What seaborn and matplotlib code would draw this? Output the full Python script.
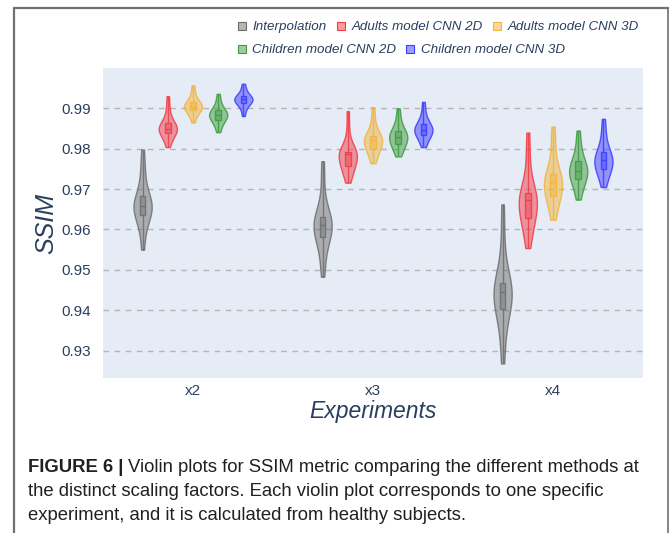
import numpy as np
import pandas as pd
import matplotlib
matplotlib.use("Agg")
import matplotlib.pyplot as plt
from matplotlib.lines import Line2D
from matplotlib import font_manager
import seaborn as sns

experiments = ["x2", "x3", "x4"]
methods = ["Interpolation", "Adults model CNN 2D", "Adults model CNN 3D",
           "Children model CNN 2D", "Children model CNN 3D"]
colors = ["#6e6e6e", "#f03c46", "#f2b43c", "#3c9c3c", "#3c3cff"]

# estimated SSIM samples per experiment / method
interp_x2 = [0.9550, 0.9590, 0.9615, 0.9628, 0.9635, 0.9645, 0.9650, 0.9655, 0.9659, 0.9663, 0.9668, 0.9675, 0.9682, 0.9700, 0.9730, 0.9756, 0.9798]
ad2d_x2 = [0.9804, 0.9818, 0.9828, 0.9835, 0.9839, 0.9843, 0.9846, 0.9848, 0.9850, 0.9853, 0.9856, 0.9860, 0.9864, 0.9872, 0.9885, 0.9905, 0.9930]
ad3d_x2 = [0.9865, 0.9878, 0.9886, 0.9892, 0.9895, 0.9898, 0.9901, 0.9903, 0.9905, 0.9907, 0.9909, 0.9912, 0.9915, 0.9920, 0.9928, 0.9940, 0.9957]
ch2d_x2 = [0.9841, 0.9853, 0.9862, 0.9868, 0.9872, 0.9876, 0.9879, 0.9882, 0.9884, 0.9886, 0.9889, 0.9892, 0.9895, 0.9900, 0.9908, 0.9920, 0.9936]
ch3d_x2 = [0.9881, 0.9895, 0.9904, 0.9910, 0.9913, 0.9916, 0.9918, 0.9920, 0.9922, 0.9924, 0.9926, 0.9928, 0.9930, 0.9934, 0.9940, 0.9950, 0.9961]

interp_x3 = [0.9483, 0.9520, 0.9550, 0.9570, 0.9581, 0.9590, 0.9598, 0.9605, 0.9612, 0.9616, 0.9620, 0.9625, 0.9630, 0.9645, 0.9670, 0.9720, 0.9769]
ad2d_x3 = [0.9716, 0.9732, 0.9745, 0.9752, 0.9757, 0.9763, 0.9770, 0.9778, 0.9786, 0.9788, 0.9790, 0.9792, 0.9793, 0.9800, 0.9815, 0.9850, 0.9893]
ad3d_x3 = [0.9764, 0.9778, 0.9788, 0.9795, 0.9800, 0.9806, 0.9812, 0.9817, 0.9821, 0.9824, 0.9827, 0.9829, 0.9831, 0.9840, 0.9855, 0.9875, 0.9903]
ch2d_x3 = [0.9781, 0.9792, 0.9800, 0.9807, 0.9812, 0.9817, 0.9822, 0.9826, 0.9829, 0.9832, 0.9836, 0.9840, 0.9844, 0.9852, 0.9862, 0.9878, 0.9900]
ch3d_x3 = [0.9804, 0.9815, 0.9824, 0.9831, 0.9835, 0.9839, 0.9842, 0.9845, 0.9847, 0.9850, 0.9854, 0.9858, 0.9862, 0.9868, 0.9878, 0.9894, 0.9916]

interp_x4 = [0.9268, 0.9320, 0.9365, 0.9390, 0.9402, 0.9415, 0.9427, 0.9437, 0.9445, 0.9450, 0.9455, 0.9461, 0.9468, 0.9490, 0.9530, 0.9590, 0.9662]
ad2d_x4 = [0.9554, 0.9585, 0.9605, 0.9620, 0.9629, 0.9640, 0.9650, 0.9660, 0.9672, 0.9677, 0.9682, 0.9687, 0.9691, 0.9710, 0.9745, 0.9790, 0.9840]
ad3d_x4 = [0.9624, 0.9648, 0.9665, 0.9676, 0.9683, 0.9693, 0.9702, 0.9710, 0.9717, 0.9722, 0.9727, 0.9732, 0.9737, 0.9755, 0.9785, 0.9820, 0.9855]
ch2d_x4 = [0.9674, 0.9692, 0.9707, 0.9717, 0.9724, 0.9731, 0.9737, 0.9741, 0.9745, 0.9750, 0.9756, 0.9762, 0.9769, 0.9780, 0.9795, 0.9818, 0.9845]
ch3d_x4 = [0.9705, 0.9722, 0.9735, 0.9744, 0.9750, 0.9756, 0.9762, 0.9767, 0.9771, 0.9776, 0.9781, 0.9787, 0.9793, 0.9805, 0.9822, 0.9845, 0.9874]

y_ticks = [0.93, 0.94, 0.95, 0.96, 0.97, 0.98, 0.99]

samples = {
    ("x2", methods[0]): interp_x2, ("x2", methods[1]): ad2d_x2, ("x2", methods[2]): ad3d_x2,
    ("x2", methods[3]): ch2d_x2, ("x2", methods[4]): ch3d_x2,
    ("x3", methods[0]): interp_x3, ("x3", methods[1]): ad2d_x3, ("x3", methods[2]): ad3d_x3,
    ("x3", methods[3]): ch2d_x3, ("x3", methods[4]): ch3d_x3,
    ("x4", methods[0]): interp_x4, ("x4", methods[1]): ad2d_x4, ("x4", methods[2]): ad3d_x4,
    ("x4", methods[3]): ch2d_x4, ("x4", methods[4]): ch3d_x4,
}
rows = []
for (e, m), vals in samples.items():
    for v in vals:
        rows.append({"Experiment": e, "Method": m, "SSIM": v})
df = pd.DataFrame(rows)

sns.set_theme(style="white")
plt.rcParams["font.family"] = ["Liberation Sans", "DejaVu Sans"]
txt_color = "#2a3f5f"
pal = dict(zip(methods, colors))
to_rgba = matplotlib.colors.to_rgba

fig = plt.figure(figsize=(6.72, 5.33), dpi=100)
W, H = 672, 533
ax = fig.add_axes([103 / W, 1 - 378 / H, (643 - 103) / W, (378 - 68) / H])
ax.set_facecolor("#E5ECF6")

WIDTH = 0.7
n_h = len(methods)
step = WIDTH / n_h


def hue_index_from_x(xc):
    off = xc - round(xc)
    return int(round(off / step + (n_h - 1) / 2))


sns.violinplot(data=df, x="Experiment", y="SSIM", hue="Method",
               order=experiments, hue_order=methods, palette=pal,
               width=WIDTH, gap=0.28, density_norm="width", cut=0, inner=None,
               linewidth=1.0, saturation=1, bw_adjust=0.9,
               ax=ax, legend=False, zorder=3)
for coll in ax.collections:
    paths = coll.get_paths()
    if not paths:
        continue
    xs = paths[0].vertices[:, 0]
    c = colors[hue_index_from_x(xs.mean())]
    coll.set_facecolor(to_rgba(c, 0.5))
    coll.set_edgecolor(to_rgba(c, 0.85))
    coll.set_linewidth(1.0)

p0 = len(ax.patches)
l0 = len(ax.lines)
sns.boxplot(data=df, x="Experiment", y="SSIM", hue="Method",
            order=experiments, hue_order=methods, palette=pal,
            width=WIDTH, gap=0.78, whis=(0, 100), showfliers=False, showcaps=False,
            linewidth=1.0, saturation=1, ax=ax, legend=False, zorder=4)
for p in ax.patches[p0:]:
    try:
        xs = p.get_path().transformed(p.get_patch_transform()).vertices[:, 0]
    except Exception:
        xs = p.get_path().vertices[:, 0]
    c = colors[hue_index_from_x(np.mean(xs))]
    p.set_facecolor(to_rgba(c, 0.45))
    p.set_edgecolor(to_rgba(c, 0.85))
for ln in ax.lines[l0:]:
    xd = np.asarray(ln.get_xdata(), dtype=float)
    if xd.size == 0:
        continue
    c = colors[hue_index_from_x(xd.mean())]
    ln.set_color(to_rgba(c, 0.85))
    ln.set_linewidth(1.0)

ax.set_xlim(-0.5, 2.5)
ax.set_ylim(0.9232, 1.0)
ax.set_yticks(y_ticks)
ax.set_yticklabels([f"{t:.2f}" for t in y_ticks])
ax.yaxis.grid(True, linestyle=(0, (4, 4)), color="#b4b4b4", linewidth=1.0, zorder=0)
ax.xaxis.grid(False)
ax.set_axisbelow(True)
for s in ax.spines.values():
    s.set_visible(False)
ax.tick_params(axis="x", length=0, labelsize=11, labelcolor=txt_color, pad=4)
ax.tick_params(axis="y", length=0, labelsize=11, labelcolor=txt_color, pad=9)
ax.set_xlabel("Experiments", fontsize=16.5, style="italic", color=txt_color, labelpad=2)
ax.set_ylabel("SSIM", fontsize=18, style="italic", color=txt_color, labelpad=2)


def handle(c, label):
    return Line2D([], [], linestyle="none", marker="s", markersize=6,
                  markerfacecolor=to_rgba(c, 0.5),
                  markeredgecolor=c, markeredgewidth=0.8, label=label)


h = [handle(c, m) for m, c in zip(methods, colors)]
leg_kw = dict(frameon=False, handlelength=0.7, handletextpad=0.45, columnspacing=0.7,
              borderpad=0, borderaxespad=0, prop={"style": "italic", "size": 9.6},
              labelcolor=txt_color)
leg1 = fig.legend(handles=h[:3], ncol=3, loc="center left",
                  bbox_to_anchor=(237 / W, 1 - 27 / H), **leg_kw)
leg2 = fig.legend(handles=h[3:], ncol=2, loc="center left",
                  bbox_to_anchor=(237 / W, 1 - 50 / H), **leg_kw)

# frame
fc = "#707070"
fig.add_artist(Line2D([14 / W, 14 / W], [0, 1 - 8 / H], color=fc, lw=1.6))
fig.add_artist(Line2D([14 / W, 668 / W], [1 - 8 / H, 1 - 8 / H], color=fc, lw=1.6))
fig.add_artist(Line2D([668 / W, 668 / W], [0, 1 - 8 / H], color=fc, lw=1.2))

# caption
avail = {f.name for f in font_manager.fontManager.ttflist}
cap_font = "Liberation Sans Narrow" if "Liberation Sans Narrow" in avail else "Liberation Sans"
cap_lines = [
    ("FIGURE 6 | ", "Violin plots for SSIM metric comparing the different methods at"),
    ("", "the distinct scaling factors. Each violin plot corresponds to one specific"),
    ("", "experiment, and it is calculated from healthy subjects."),
]
renderer = fig.canvas.get_renderer()
cap_size = 13.0
t1 = fig.text(0, 0, cap_lines[0][0], fontsize=cap_size, family=cap_font, weight="bold")
t2 = fig.text(0, 0, cap_lines[0][1], fontsize=cap_size, family=cap_font)
wtot = t1.get_window_extent(renderer).width + t2.get_window_extent(renderer).width
t1.remove(); t2.remove()
cap_size = cap_size * 613 / wtot
ys = [467, 491, 515]
for (b, r), yy in zip(cap_lines, ys):
    x0 = 28
    if b:
        tb = fig.text(x0 / W, 1 - yy / H, b, fontsize=cap_size, family=cap_font,
                      weight="bold", color="#231f20", va="center")
        x0 += tb.get_window_extent(renderer).width
    fig.text(x0 / W, 1 - yy / H, r, fontsize=cap_size, family=cap_font,
             color="#231f20", va="center")

fig.savefig("out.png", dpi=100, facecolor="white")
